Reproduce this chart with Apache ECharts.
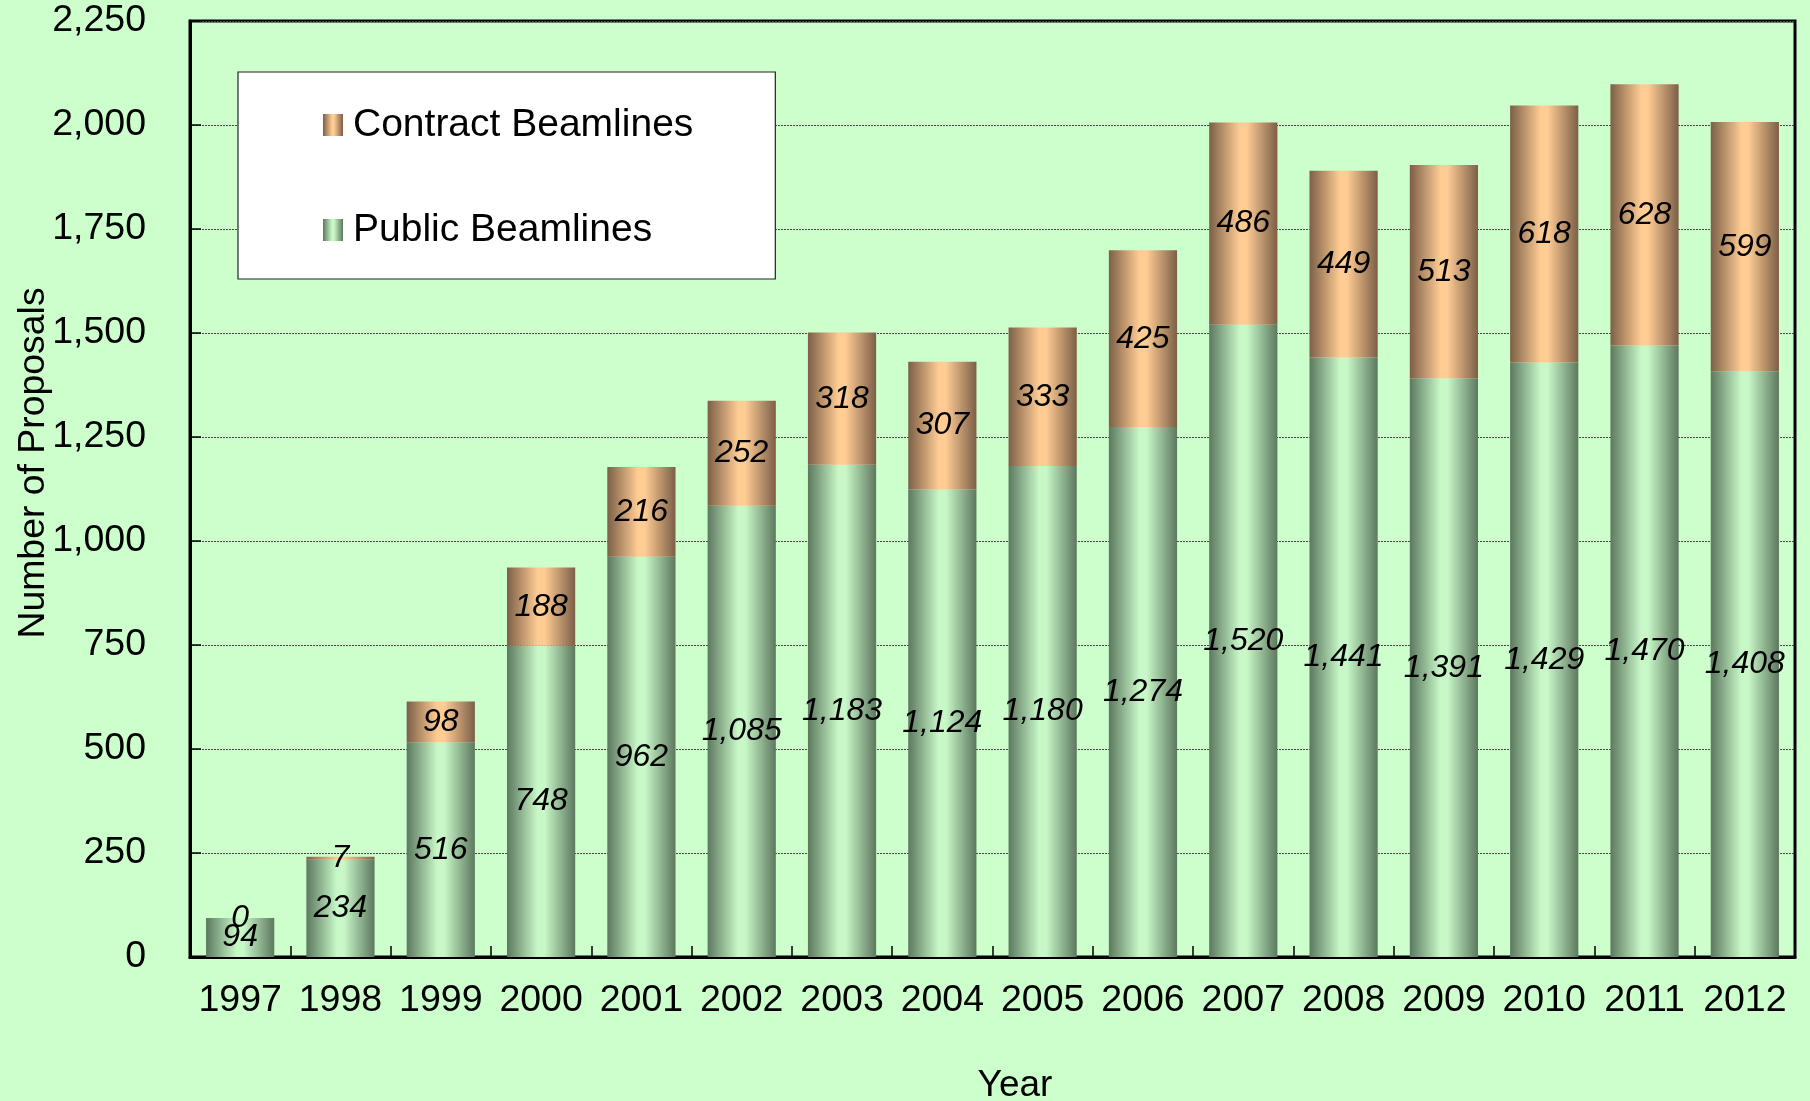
<!DOCTYPE html>
<html>
<head>
<meta charset="utf-8">
<title>Number of Proposals</title>
<script src="https://cdn.jsdelivr.net/npm/echarts@6/dist/echarts.min.js"></script>
<style>
  html, body { margin: 0; padding: 0; background: #ccffcc; }
  #chart { width: 1810px; height: 1101px; }
</style>
</head>
<body>
<div id="chart"></div>
<script>
// Proposals per year, split by beamline type
const years = ['1997','1998','1999','2000','2001','2002','2003','2004',
               '2005','2006','2007','2008','2009','2010','2011','2012'];
const publicBeamlines = [94, 234, 516, 748, 962, 1085, 1183, 1124,
                         1180, 1274, 1520, 1441, 1391, 1429, 1470, 1408];
const contractBeamlines = [0, 7, 98, 188, 216, 252, 318, 307,
                           333, 425, 486, 449, 513, 618, 628, 599];
const yTicks = { min: 0, max: 2250, step: 250 };

const FONT = '"Liberation Sans", Arial, Helvetica, sans-serif';
const fmt = v => Number(v).toLocaleString('en-US');

// cylinder-like shading: dark edges, light band just left of centre
function shade(edge, light) {
  return {
    type: 'linear', x: 0, y: 0, x2: 1, y2: 0,
    colorStops: [
      { offset: 0, color: edge },
      { offset: 0.45, color: light },
      { offset: 0.55, color: light },
      { offset: 1, color: edge }
    ]
  };
}
const greenFill = shade('#5d785f', '#c8f8c8');
const orangeFill = shade('#7c5f47', '#ffcc94');

const valueLabel = {
  show: true,
  position: 'inside',
  color: '#000',
  fontFamily: FONT,
  fontSize: 32,
  fontStyle: 'italic',
  formatter: p => fmt(p.value)
};

const chart = echarts.init(document.getElementById('chart'), null, { renderer: 'canvas' });
chart.setOption({
  backgroundColor: '#ccffcc',
  animation: false,
  grid: {
    left: 190, right: 15, top: 21, bottom: 144,
    outerBoundsMode: 'none',
    show: true, borderColor: '#000', borderWidth: 3,
    backgroundColor: 'transparent'
  },
  legend: {
    orient: 'vertical',
    left: 238, top: 72,
    data: ['Contract Beamlines', 'Public Beamlines'],
    icon: 'rect',
    itemWidth: 20, itemHeight: 22,
    itemGap: 61,
    padding: [31, 82, 27, 85],
    backgroundColor: '#ffffff',
    borderColor: '#222',
    borderWidth: 1.2,
    textStyle: { fontFamily: FONT, fontSize: 39, color: '#000', lineHeight: 44, padding: [0, 0, 0, 5] }
  },
  xAxis: {
    type: 'category',
    data: years,
    name: 'Year',
    nameLocation: 'middle',
    nameGap: 110,
    nameMoveOverlap: false,
    nameTextStyle: { fontFamily: FONT, fontSize: 37, color: '#000', padding: [0, 0, 0, 45] },
    axisLine: { lineStyle: { color: '#000', width: 3 } },
    axisTick: { show: true, inside: true, length: 11, lineStyle: { color: '#000', width: 1.5 } },
    axisLabel: { fontFamily: FONT, fontSize: 37.5, color: '#000', margin: 25, interval: 0 }
  },
  yAxis: {
    type: 'value',
    min: yTicks.min, max: yTicks.max, interval: yTicks.step,
    name: 'Number of Proposals',
    nameLocation: 'middle',
    nameGap: 138,
    nameMoveOverlap: false,
    nameTextStyle: { fontFamily: FONT, fontSize: 37.4, color: '#000', padding: [0, 0, 0, 52] },
    axisLine: { show: true, lineStyle: { color: '#000', width: 3 } },
    axisTick: { show: true, inside: true, length: 11, lineStyle: { color: '#000', width: 1.5 } },
    axisLabel: { fontFamily: FONT, fontSize: 37.5, color: '#000', margin: 44, formatter: v => fmt(v) },
    splitLine: { show: true, lineStyle: { color: '#444', width: 1, type: [2, 1] } }
  },
  series: [
    {
      name: 'Public Beamlines',
      type: 'bar',
      stack: 'total',
      data: publicBeamlines,
      barCategoryGap: '32%',
      itemStyle: { color: greenFill },
      label: valueLabel
    },
    {
      name: 'Contract Beamlines',
      type: 'bar',
      stack: 'total',
      data: contractBeamlines,
      barCategoryGap: '32%',
      itemStyle: { color: orangeFill },
      label: valueLabel
    }
  ]
});
</script>
</body>
</html>
